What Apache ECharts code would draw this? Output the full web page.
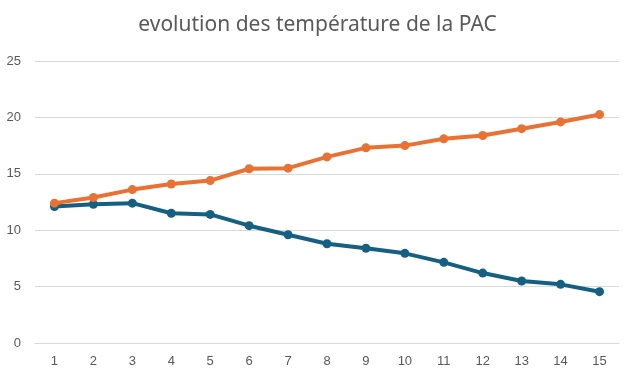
<!DOCTYPE html>
<html>
<head>
<meta charset="utf-8">
<script src="https://cdn.jsdelivr.net/npm/echarts@6/dist/echarts.min.js"></script>
<style>html,body{margin:0;padding:0;background:#fff}#c{width:635px;height:380px}</style>
</head>
<body>
<div id="c"></div>
<script>
const categories = ['1','2','3','4','5','6','7','8','9','10','11','12','13','14','15'];
const seriesOrange = [12.4, 12.9, 13.6, 14.1, 14.4, 15.45, 15.5, 16.5, 17.3, 17.5, 18.1, 18.4, 19.0, 19.6, 20.25];
const seriesBlue = [12.1, 12.3, 12.4, 11.5, 11.4, 10.4, 9.6, 8.8, 8.4, 7.95, 7.15, 6.2, 5.5, 5.2, 4.55];
const yTicks = [0, 5, 10, 15, 20, 25];
const titleText = 'evolution des température de la PAC';

const chart = echarts.init(document.getElementById('c'), null, {renderer: 'canvas'});
chart.setOption({
  animation: false,
  backgroundColor: '#ffffff',
  title: {
    text: titleText,
    left: 'center',
    top: 10,
    textStyle: {color: '#595959', fontSize: 21, fontWeight: 'normal', fontFamily: 'Noto Sans'}
  },
  grid: {left: 35, right: 16, top: 61, bottom: 37, containLabel: false},
  xAxis: {
    type: 'category',
    data: categories,
    boundaryGap: true,
    axisLine: {show: true, lineStyle: {color: '#d9d9d9', width: 1}},
    axisTick: {show: false},
    axisLabel: {color: '#595959', fontSize: 13, margin: 12, fontFamily: 'Liberation Sans'}
  },
  yAxis: {
    type: 'value',
    min: yTicks[0],
    max: yTicks[yTicks.length - 1],
    interval: 5,
    axisLine: {show: false},
    axisTick: {show: false},
    splitLine: {lineStyle: {color: '#d9d9d9', width: 1}},
    axisLabel: {color: '#595959', fontSize: 13, margin: 14, fontFamily: 'Liberation Sans'}
  },
  series: [
    {
      type: 'line',
      data: seriesBlue,
      symbol: 'circle',
      symbolSize: 9,
      lineStyle: {color: '#156082', width: 4},
      itemStyle: {color: '#156082'},
      z: 2
    },
    {
      type: 'line',
      data: seriesOrange,
      symbol: 'circle',
      symbolSize: 9,
      lineStyle: {color: '#E97132', width: 4},
      itemStyle: {color: '#E97132'},
      z: 3
    }
  ]
});
</script>
</body>
</html>
